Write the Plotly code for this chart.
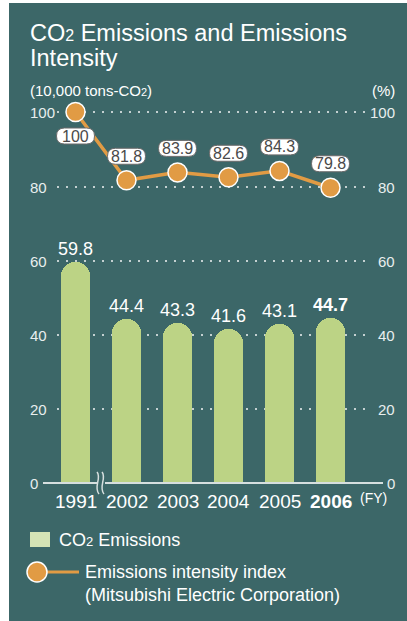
import plotly.graph_objects as go

# ---- data ----
years = ["1991", "2002", "2003", "2004", "2005", "2006"]
emissions = [59.8, 44.4, 43.3, 41.6, 43.1, 44.7]          # 10,000 tons-CO2
intensity = [100, 81.8, 83.9, 82.6, 84.3, 79.8]            # index, %
bar_ticks = [0, 20, 40, 60]
line_ticks = [80, 100]
highlight_year = "2006"

# ---- styling ----
W, H = 407, 621
FONT = "Liberation Sans, Arial, Helvetica, sans-serif"
TEAL = "#3c6768"
BAR = "#bcd385"
BAR_LEGEND = "#d4e3b5"
ORANGE = "#e19b44"
GRID = "#c4d1d1"
TICK = "#e8eeee"
AXIS = "#d6dfdf"


def fx(p):
    return p / W


def fy(p):
    return 1 - p / H


def co2(size):
    # small baseline-aligned "2" in CO2
    return f"CO<span style='font-size:{size}px'>2</span>"


xs = list(range(len(years)))
x_range = [-75.5 / 51, (W - 75.5) / 51]

fig = go.Figure()

bar_text = [f"<b>{v}</b>" if y == highlight_year else f"{v}" for y, v in zip(years, emissions)]
fig.add_trace(go.Bar(
    x=xs, y=emissions, width=0.55,
    marker=dict(color=BAR, line_width=0, cornerradius="50%"),
    text=bar_text, texttemplate="%{text}", textposition="outside", constraintext="none",
    textfont=dict(family=FONT, size=18, color="white"),
    cliponaxis=False, hoverinfo="skip", xaxis="x", yaxis="y",
))

fig.add_trace(go.Scatter(
    x=xs, y=intensity, mode="lines+markers",
    line=dict(color=ORANGE, width=3.5),
    marker=dict(size=19, color=ORANGE, line=dict(color="white", width=1.5)),
    cliponaxis=False, hoverinfo="skip", xaxis="x2", yaxis="y2",
))

shapes = []
annotations = []


def label(x, y, text, size, color="white", xanchor="left", xref="paper", yref="paper", **kw):
    annotations.append(dict(x=x, y=y, xref=xref, yref=yref, xanchor=xanchor, yanchor="middle",
                            text=text, showarrow=False, font=dict(family=FONT, size=size, color=color), **kw))


# panel background
shapes.append(dict(type="rect", xref="paper", yref="paper", x0=fx(9), x1=1, y0=0, y1=fy(3),
                   fillcolor=TEAL, line=dict(width=0), layer="below"))

# dotted gridlines
for v in bar_ticks[1:]:
    shapes.append(dict(type="line", xref="paper", yref="y", x0=fx(57), x1=fx(370), y0=v, y1=v,
                       line=dict(color=GRID, width=2, dash="2px,7px"), layer="below"))
for v in line_ticks:
    shapes.append(dict(type="line", xref="paper", yref="y2", x0=fx(57), x1=fx(367), y0=v, y1=v,
                       line=dict(color=GRID, width=2, dash="2px,7px"), layer="below"))

# baseline
shapes.append(dict(type="line", xref="paper", yref="y", x0=fx(43), x1=fx(383), y0=0, y1=0,
                   line=dict(color=AXIS, width=2), layer="above"))

# axis break between 1991 and 2002
brk = dict(xref="x", yref="y", xanchor=0.5, yanchor=0, xsizemode="pixel", ysizemode="pixel", layer="above")
shapes.append(dict(type="rect", x0=-4, x1=4, y0=-2.5, y1=2.5, fillcolor=TEAL, line=dict(width=0), **brk))
for off in (-3, 2):
    shapes.append(dict(type="path",
                       path=f"M {off - 1},11 C {off + 4},5 {off - 5},-4 {off + 1},-11",
                       line=dict(color=AXIS, width=1.5), **brk))

# value boxes on the index line
bw, bh, r = 38, 16, 8
for i, v in enumerate(intensity):
    dy = -24 if i == 0 else 24
    l, rr, t, b = -bw / 2, bw / 2, dy + bh / 2, dy - bh / 2
    path = (f"M {l + r},{t} L {rr - r},{t} Q {rr},{t} {rr},{dy} Q {rr},{b} {rr - r},{b} "
            f"L {l + r},{b} Q {l},{b} {l},{dy} Q {l},{t} {l + r},{t} Z")
    shapes.append(dict(type="path", path=path, xref="x2", yref="y2", xanchor=i, yanchor=v,
                       xsizemode="pixel", ysizemode="pixel", fillcolor="white",
                       line=dict(color="#6a6a6a", width=1), layer="above"))
    label(i, v, f"{v:g}", 16, "#4a4a4a", xanchor="center", xref="x2", yref="y2", yshift=dy)

# y tick labels (left aligned on the left, right aligned on the right)
for ticks, yr in ((bar_ticks, "y"), (line_ticks, "y2")):
    for v in ticks:
        label(fx(28), v, str(v), 15, TICK, xanchor="left", yref=yr)
        label(fx(397), v, str(v), 15, TICK, xanchor="right", yref=yr)

# x tick labels
for i, y in enumerate(years):
    txt = f"<b>{y}</b>" if y == highlight_year else y
    label(i, fy(501), txt, 19, xanchor="center", xref="x")
label(fx(358), fy(498), "(FY)", 14, xanchor="left")

# title and axis units
label(fx(28), fy(33), f"{co2(16)} Emissions and Emissions", 23.5)
label(fx(28), fy(58), "Intensity", 23.5)
label(fx(28), fy(91), f"(10,000 tons-{co2(11)})", 15)
label(fx(397), fy(91), "(%)", 15, xanchor="right")

# legend
shapes.append(dict(type="rect", xref="paper", yref="paper", x0=fx(30), x1=fx(50), y0=fy(547), y1=fy(532),
                   fillcolor=BAR_LEGEND, line=dict(width=0)))
label(fx(57), fy(540), f"{co2(13)} Emissions", 18)
shapes.append(dict(type="line", xref="paper", yref="paper", x0=fx(37), x1=fx(79), y0=fy(572), y1=fy(572),
                   line=dict(color=ORANGE, width=3)))
shapes.append(dict(type="circle", xref="paper", yref="paper", x0=fx(27), x1=fx(47), y0=fy(582), y1=fy(562),
                   fillcolor=ORANGE, line=dict(color="white", width=1.5)))
label(fx(83), fy(572), "Emissions intensity index", 18)
label(fx(83), fy(595), "(Mitsubishi Electric Corporation)", 18)

fig.update_layout(
    width=W, height=H, margin=dict(l=0, r=0, t=0, b=0),
    paper_bgcolor="white", plot_bgcolor="rgba(0,0,0,0)",
    showlegend=False, bargap=0,
    xaxis=dict(domain=[0, 1], range=x_range, visible=False, anchor="y"),
    yaxis=dict(domain=[fy(501.5), fy(224)], range=[-5, 70], visible=False, anchor="x"),
    xaxis2=dict(domain=[0, 1], range=x_range, visible=False, anchor="y2"),
    yaxis2=dict(domain=[fy(194.5), fy(100.75)], range=[78, 103], visible=False, anchor="x2"),
    shapes=shapes, annotations=annotations,
)

fig.write_html("out.html")
